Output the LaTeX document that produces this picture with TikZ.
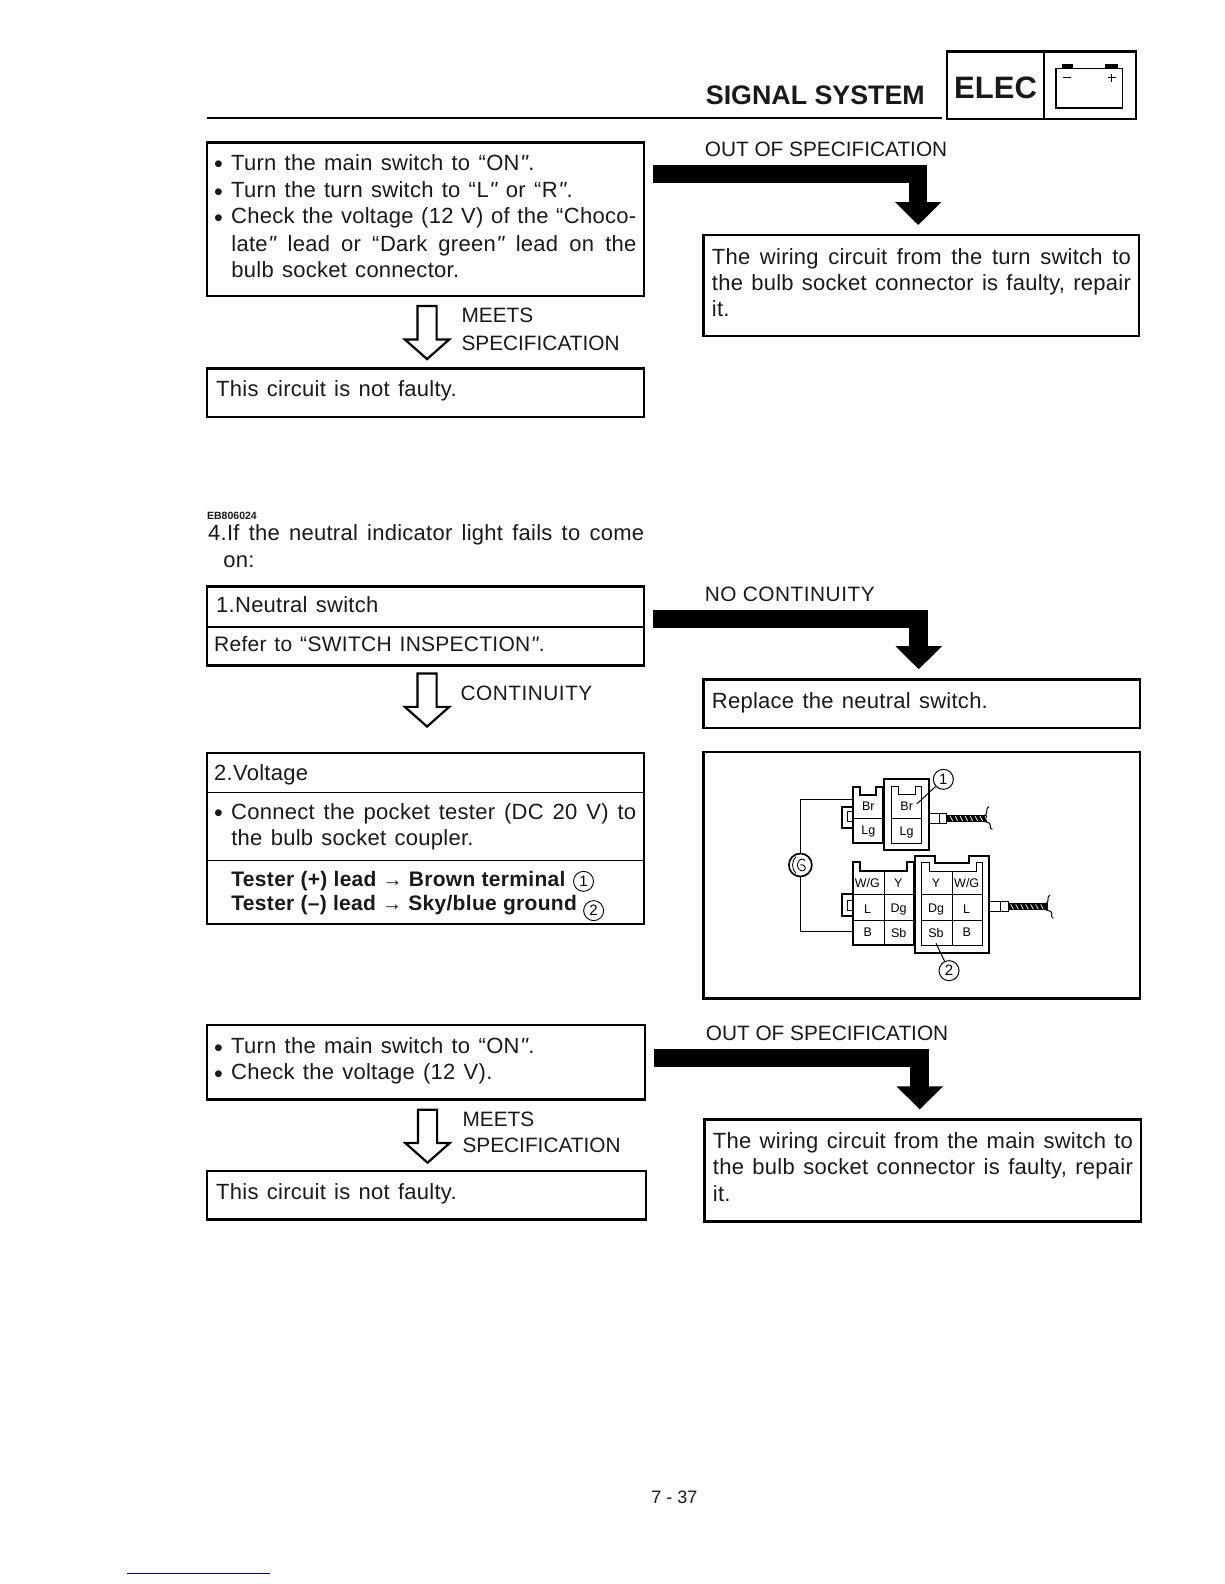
\documentclass[tikz,border=0pt]{standalone}
\usepackage{fontspec}
\setmainfont{Liberation Sans}
\newfontfamily\arrf{Liberation Sans}
\newfontfamily\bodyf[LetterSpace=1.2,WordSpace=1.3]{Liberation Sans}
\newfontfamily\boldf[LetterSpace=1.5]{Liberation Sans}
\newfontfamily\contf[LetterSpace=2.5]{Liberation Sans}
\usetikzlibrary{fit,arrows.meta,calc}
\tikzset{
 boxst/.style={draw=black,line width=2.4pt,inner sep=0pt,rectangle},
 txt/.style={anchor=base west,inner sep=0pt,yshift=-.7pt,font=\bodyf\fontsize{22}{24}\selectfont,text=black!90},
 caps/.style={font=\fontsize{20.8}{24}\selectfont},
 spaced/.style={font=\contf\fontsize{20.8}{24}\selectfont},
 boldline/.style={font=\boldf\bfseries\fontsize{21}{24}\selectfont},
 rule/.style={line width=1.6pt},
 thickarrow/.style={line width=18.5pt,-{Triangle[length=23pt,width=45pt]},shorten >=9pt},
 openarrow/.style={draw=black,line width=2.2pt,fill=white,line join=miter},
 part/.style={draw=black,line width=1pt},
 heavy/.style={draw=black,line width=1.9pt},
 pin/.style={inner sep=0pt,font=\fontsize{12.5}{14}\selectfont,text=black},
 numc/.style={circle,draw=black,line width=1pt,minimum size=20pt,inner sep=0pt,font=\fontsize{15}{16}\selectfont}
}
\newcommand{\lbl}[5][]{\node[txt,#1] (#2) at (#3,#4) {#5};}
\newcommand{\jl}[2]{\makebox[#1pt][s]{#2}}
\newcommand{\bl}{\makebox[17pt][l]{\raisebox{-2.5pt}{\fontsize{25}{26}\selectfont•}}}
\newcommand{\qo}{“\kern.5pt}
\newcommand{\qc}{\kern.5pt{\itshape"}\kern.5pt}
\newcommand{\bx}[5]{\node[boxst,fit={(#2,#3)(#4,#5)}] (#1) {};}
\newcommand{\oarrow}[2]{\draw[openarrow,shift={(#1.south)}] (-8,#2) -- (11,#2) -- (11,#2+33) -- (23.5,#2+33) -- (1.5,#2+52.5) -- (-20.5,#2+33) -- (-8,#2+33) -- cycle;}
\newcommand{\arr}{{\arrf\mdseries\fontsize{20}{20}\selectfont→}}
\begin{document}
\begin{tikzpicture}[x=1.0095pt,y=-1.0095pt]
\useasboundingbox (0,0) rectangle (1212.5,1569);
% header
\coordinate (hl) at (205,117);
\coordinate (hr) at (933,117);
\draw[rule] (hl) -- (hr);
\lbl[font=\bfseries\fontsize{26.8}{30}\selectfont]{title}{699}{103}{SIGNAL SYSTEM}
\bx{elecbox}{938}{51}{1034}{118}
\bx{batbox}{1034}{51}{1125}{118}
\lbl[font=\bfseries\fontsize{31}{32}\selectfont]{elec}{945}{97}{ELEC}
\draw[line width=1.1pt] (1046,68) rectangle (1112,107);
\fill (1052,63.5) rectangle (1063,68.5);
\fill (1095,63.5) rectangle (1107,68.5);
\draw[line width=1.3pt] (1053,77) -- (1061,77) (1097,77) -- (1105,77) (1101,73) -- (1101,81);
% first block
\bx{b1}{205}{141}{638}{293}
\lbl{a1}{212}{168}{\bl Turn the main switch to \qo ON\qc.}
\lbl{a2}{212}{195}{\bl Turn the turn switch to \qo L\qc\ or \qo R\qc.}
\lbl{a3}{212}{221}{\bl\jl{405}{Check the voltage (12 V) of the \qo Choco-}}
\lbl{a4}{229}{248}{\jl{405}{late\qc\ lead or \qo Dark green\qc\ lead on the}}
\lbl{a5}{229}{274}{bulb socket connector.}
\oarrow{b1}{9}
\lbl[caps]{m1}{457}{319}{MEETS}
\lbl[caps]{m2}{457}{346}{SPECIFICATION}
\bx{b2}{205}{365}{638}{413}
\lbl{n1}{214}{392}{This circuit is not faulty.}
\lbl[caps]{o1}{698}{154}{OUT OF SPECIFICATION}
\bx{b3}{697}{233}{1128}{333}
\lbl{c1}{705}{261}{\jl{419}{The wiring circuit from the turn switch to}}
\lbl{c2}{705}{287}{\jl{419}{the bulb socket connector is faulty, repair}}
\lbl{c3}{705}{313}{it.}
\coordinate (s1) at (647,172.5);
\draw[thickarrow] (s1) -| ([xshift=-3]b3.north);
% section 4
\lbl[font=\bfseries\fontsize{10.5}{12}\selectfont]{code}{205}{514}{EB806024}
\lbl{h1}{206}{535}{\jl{436}{4.If the neutral indicator light fails to come}}
\lbl{h2}{221}{561}{on:}
\node[boxst,fit={(205,581)(638,659)}] (b4) {};
\coordinate (d4l) at (205,621); \coordinate (d4r) at (638,621);
\draw[line width=1.2pt] (d4l) -- (d4r);
\lbl{d1}{214}{606}{1.Neutral switch}
\lbl[font=\bodyf\fontsize{21}{24}\selectfont]{d2}{212}{645}{Refer to \qo SWITCH INSPECTION\qc.}
\oarrow{b4}{7}
\lbl[spaced]{cont}{456}{693}{CONTINUITY}
\lbl[spaced]{o2}{698}{595}{NO CONTINUITY}
\bx{b5}{697}{673}{1129}{721}
\lbl{r1}{705}{701}{Replace the neutral switch.}
\coordinate (s2) at (647,613);
\draw[thickarrow] (s2) -| ([xshift=-3]b5.north);
\bx{b6}{205}{746}{638}{915}
\coordinate (d6a) at (205,785); \coordinate (d6b) at (638,785);
\coordinate (d6c) at (205,852); \coordinate (d6d) at (638,852);
\draw[line width=1.2pt] (d6a) -- (d6b) (d6c) -- (d6d);
\lbl{v1}{212}{772}{2.Voltage}
\lbl{v2}{212}{811}{\bl\jl{405}{Connect the pocket tester (DC 20 V) to}}
\lbl{v3}{229}{837}{the bulb socket coupler.}
\lbl[boldline]{v4}{229}{877}{Tester (+) lead \arr\ Brown terminal}
\lbl[boldline]{v5}{229}{901}{Tester (–) lead \arr\ Sky/blue ground}
\node[numc,line width=.9pt] (cn1) at (578,873) {1};
\node[numc,line width=.9pt] (cn2) at (588,902) {2};
% wiring figure
\bx{b7}{697}{745}{1129}{989}
\begin{scope}[shift={(683.5,733)},x=0.3333pt,y=-0.3333pt]
 % upper pair
 \draw[heavy] (490,310) -- (490,140) -- (510,140) -- (510,165) -- (557,165) -- (557,140) -- (580,140) -- (580,310) -- cycle;
 \draw[part] (490,235) -- (580,235);
 \draw[heavy] (490,200) -- (457,200) -- (457,263) -- (490,263);
 \draw[part] (490,215) -- (472,215) -- (472,245) -- (490,245);
 \draw[heavy,line width=2.2pt] (582,117) rectangle (717,330);
 \draw[part] (604,310) -- (604,140) -- (625,140) -- (625,163) -- (675,163) -- (675,140) -- (695,140) -- (695,310) -- cycle;
 \draw[part] (604,235) -- (695,235);
 \node[pin] (p1) at (535,198) {Br};
 \node[pin] (p2) at (535,275) {Lg};
 \node[pin] (p3) at (650,200) {Br};
 \node[pin] (p4) at (650,277) {Lg};
 \draw[heavy,line width=1.6pt] (717,220) rectangle (770,250);
 \draw[part] (748,220) -- (748,250);
 \fill (772,225) rectangle (890,246);
 \foreach \k in {780,795,...,885} \draw[white,line width=.7pt] (\k,228) -- (\k+8,243);
 \draw[part] (885,225) .. controls (895,220) and (885,205) .. (897,200);
 \draw[part] (885,245) .. controls (915,250) and (890,265) .. (907,268);
 \node[numc] (n1c) at (760,118) {1};
 \coordinate (l1) at (680,192);
 \draw[part] (l1) -- (n1c);
 % meter
 \node[circle,draw=black,line width=1.7pt,minimum size=23pt,inner sep=0pt] (meter) at (331,375) {};
 \draw[line width=.9pt] (318,350) .. controls (304,362) and (304,388) .. (318,400);
 \draw[line width=.9pt] (345,362) .. controls (340,352) and (322,358) .. (322,375) .. controls (322,392) and (340,398) .. (345,388) .. controls (348,380) and (340,372) .. (330,375);
 \coordinate (w1) at (490,178);
 \coordinate (w2) at (490,575);
 \draw[part] (w1) -| (meter.north);
 \draw[part] (w2) -| (meter.south);
 % lower pair
 \draw[heavy] (490,615) -- (490,365) -- (510,365) -- (510,392) -- (650,392) -- (650,365) -- (672,365) -- (672,615) -- cycle;
 \draw[part] (582,392) -- (582,615) (490,463) -- (672,463) (490,540) -- (672,540);
 \draw[heavy] (490,463) -- (457,463) -- (457,527) -- (490,527);
 \draw[part] (490,480) -- (472,480) -- (472,512) -- (490,512);
 \draw[heavy,line width=2.2pt] (675,638) -- (675,347) -- (735,347) -- (735,370) -- (838,370) -- (838,347) -- (897,347) -- (897,638) -- cycle;
 \draw[part] (695,617) -- (695,368) -- (718,368) -- (718,395) -- (858,395) -- (858,368) -- (878,368) -- (878,617) -- cycle;
 \draw[part] (787,395) -- (787,617) (695,463) -- (878,463) (695,540) -- (878,540);
 \node[pin] (q1) at (532,430) {W/G};
 \node[pin] (q2) at (625,430) {Y};
 \node[pin] (q3) at (533,508) {L};
 \node[pin] (q4) at (626,508) {Dg};
 \node[pin] (q5) at (533,578) {B};
 \node[pin] (q6) at (626,578) {Sb};
 \node[pin] (q7) at (738,430) {Y};
 \node[pin] (q8) at (830,430) {W/G};
 \node[pin] (q9) at (738,508) {Dg};
 \node[pin] (q10) at (830,508) {L};
 \node[pin] (q11) at (738,578) {Sb};
 \node[pin] (q12) at (830,578) {B};
 \draw[heavy,line width=1.6pt] (897,485) rectangle (955,515);
 \draw[part] (930,485) -- (930,515);
 \fill (955,490) rectangle (1075,511);
 \foreach \k in {962,977,...,1065} \draw[white,line width=.7pt] (\k,493) -- (\k+8,508);
 \draw[part] (1068,490) .. controls (1080,485) and (1068,470) .. (1080,465);
 \draw[part] (1068,510) .. controls (1100,515) and (1075,530) .. (1090,535);
 \node[numc] (n2c) at (777,692) {2};
 \coordinate (l2) at (738,610);
 \draw[part] (l2) -- (n2c);
\end{scope}
% third block
\bx{b8}{205}{1015}{639}{1089}
\lbl{e1}{212}{1043}{\bl Turn the main switch to \qo ON\qc.}
\lbl{e2}{212}{1069}{\bl Check the voltage (12 V).}
\oarrow{b8}{9}
\lbl[caps]{m3}{458}{1115}{MEETS}
\lbl[caps]{m4}{458}{1141}{SPECIFICATION}
\bx{b9}{205}{1160}{640}{1208}
\lbl{n2}{214}{1187}{This circuit is not faulty.}
\lbl[caps]{o3}{699}{1030}{OUT OF SPECIFICATION}
\bx{b10}{698}{1109}{1130}{1210}
\lbl{f1}{706}{1137}{\jl{420}{The wiring circuit from the main switch to}}
\lbl{f2}{706}{1163}{\jl{420}{the bulb socket connector is faulty, repair}}
\lbl{f3}{706}{1189}{it.}
\coordinate (s3) at (648,1048);
\draw[thickarrow] (s3) -| ([xshift=-3]b10.north);
% footer
\lbl[font=\fontsize{18}{20}\selectfont]{page}{645}{1489}{7 - 37}
\coordinate (fl) at (126,1559); \coordinate (fr) at (267,1559);
\draw[blue!70!black,line width=1pt] (fl) -- (fr);
\end{tikzpicture}
\end{document}
